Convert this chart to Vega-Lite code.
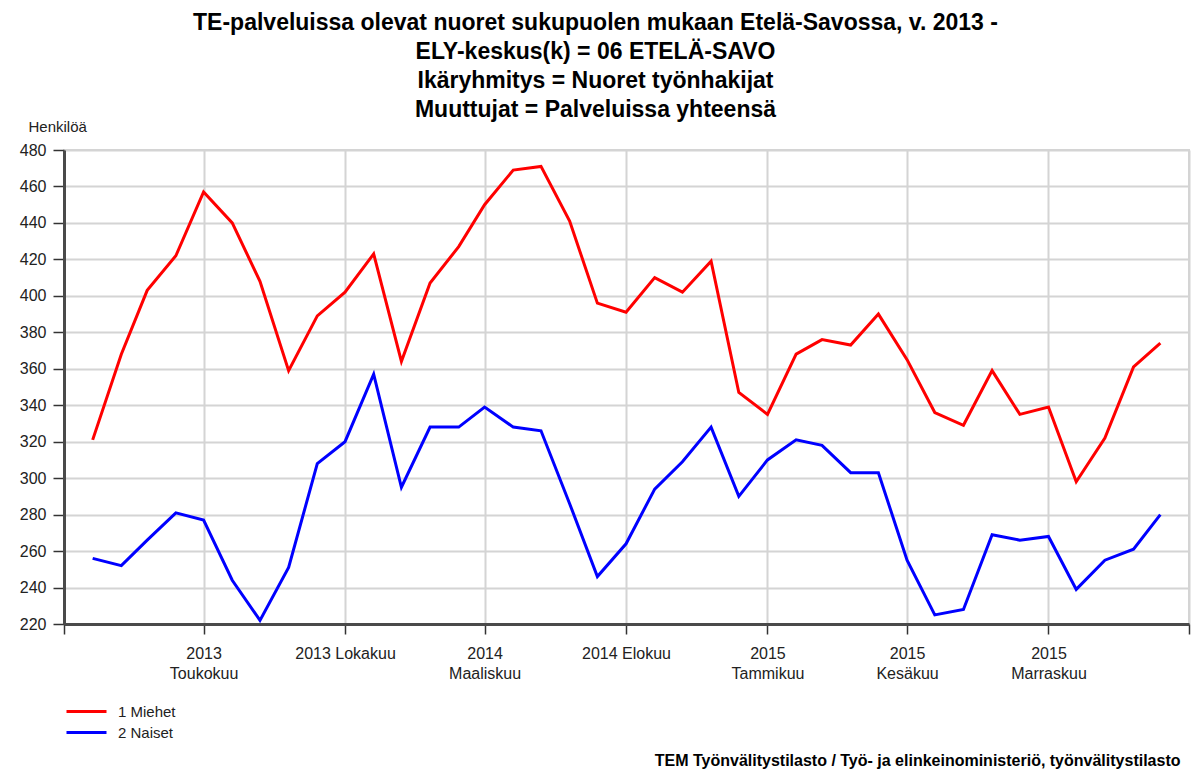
{
  "$schema": "https://vega.github.io/schema/vega-lite/v6.json",
  "autosize": "none",
  "width": 1125,
  "height": 474,
  "padding": {"left": 64, "top": 150, "right": 2, "bottom": 145},
  "background": "white",
  "config": {
    "font": "Liberation Sans",
    "view": {"stroke": "#d4d4d4", "strokeWidth": 2}
  },
  "title": {
    "text": "TE-palveluissa olevat nuoret sukupuolen mukaan Etelä-Savossa, v. 2013 -",
    "subtitle": [
      "ELY-keskus(k) = 06 ETELÄ-SAVO",
      "Ikäryhmitys = Nuoret työnhakijat",
      "Muuttujat = Palveluissa yhteensä"
    ],
    "anchor": "middle",
    "frame": "group",
    "dx": -31,
    "offset": -3,
    "font": "Liberation Sans",
    "fontSize": 23,
    "fontWeight": "bold",
    "color": "#000000",
    "subtitleFont": "Liberation Sans",
    "subtitleFontSize": 23,
    "subtitleFontWeight": "bold",
    "subtitleColor": "#000000",
    "subtitleLineHeight": 29,
    "subtitlePadding": 6
  },
  "data": {
    "values": [
      {"kk": "2013-01", "sp": "1 Miehet", "v": 321}, {"kk": "2013-02", "sp": "1 Miehet", "v": 368},
      {"kk": "2013-03", "sp": "1 Miehet", "v": 403}, {"kk": "2013-04", "sp": "1 Miehet", "v": 422},
      {"kk": "2013-05", "sp": "1 Miehet", "v": 457}, {"kk": "2013-06", "sp": "1 Miehet", "v": 440},
      {"kk": "2013-07", "sp": "1 Miehet", "v": 408}, {"kk": "2013-08", "sp": "1 Miehet", "v": 359},
      {"kk": "2013-09", "sp": "1 Miehet", "v": 389}, {"kk": "2013-10", "sp": "1 Miehet", "v": 402},
      {"kk": "2013-11", "sp": "1 Miehet", "v": 423}, {"kk": "2013-12", "sp": "1 Miehet", "v": 364},
      {"kk": "2014-01", "sp": "1 Miehet", "v": 407}, {"kk": "2014-02", "sp": "1 Miehet", "v": 427},
      {"kk": "2014-03", "sp": "1 Miehet", "v": 450}, {"kk": "2014-04", "sp": "1 Miehet", "v": 469},
      {"kk": "2014-05", "sp": "1 Miehet", "v": 471}, {"kk": "2014-06", "sp": "1 Miehet", "v": 441},
      {"kk": "2014-07", "sp": "1 Miehet", "v": 396}, {"kk": "2014-08", "sp": "1 Miehet", "v": 391},
      {"kk": "2014-09", "sp": "1 Miehet", "v": 410}, {"kk": "2014-10", "sp": "1 Miehet", "v": 402},
      {"kk": "2014-11", "sp": "1 Miehet", "v": 419}, {"kk": "2014-12", "sp": "1 Miehet", "v": 347},
      {"kk": "2015-01", "sp": "1 Miehet", "v": 335}, {"kk": "2015-02", "sp": "1 Miehet", "v": 368},
      {"kk": "2015-03", "sp": "1 Miehet", "v": 376}, {"kk": "2015-04", "sp": "1 Miehet", "v": 373},
      {"kk": "2015-05", "sp": "1 Miehet", "v": 390}, {"kk": "2015-06", "sp": "1 Miehet", "v": 365},
      {"kk": "2015-07", "sp": "1 Miehet", "v": 336}, {"kk": "2015-08", "sp": "1 Miehet", "v": 329},
      {"kk": "2015-09", "sp": "1 Miehet", "v": 359}, {"kk": "2015-10", "sp": "1 Miehet", "v": 335},
      {"kk": "2015-11", "sp": "1 Miehet", "v": 339}, {"kk": "2015-12", "sp": "1 Miehet", "v": 298},
      {"kk": "2016-01", "sp": "1 Miehet", "v": 322}, {"kk": "2016-02", "sp": "1 Miehet", "v": 361},
      {"kk": "2016-03", "sp": "1 Miehet", "v": 374},
      {"kk": "2013-01", "sp": "2 Naiset", "v": 256}, {"kk": "2013-02", "sp": "2 Naiset", "v": 252},
      {"kk": "2013-03", "sp": "2 Naiset", "v": 266}, {"kk": "2013-04", "sp": "2 Naiset", "v": 281},
      {"kk": "2013-05", "sp": "2 Naiset", "v": 277}, {"kk": "2013-06", "sp": "2 Naiset", "v": 244},
      {"kk": "2013-07", "sp": "2 Naiset", "v": 222}, {"kk": "2013-08", "sp": "2 Naiset", "v": 251},
      {"kk": "2013-09", "sp": "2 Naiset", "v": 308}, {"kk": "2013-10", "sp": "2 Naiset", "v": 320},
      {"kk": "2013-11", "sp": "2 Naiset", "v": 357}, {"kk": "2013-12", "sp": "2 Naiset", "v": 295},
      {"kk": "2014-01", "sp": "2 Naiset", "v": 328}, {"kk": "2014-02", "sp": "2 Naiset", "v": 328},
      {"kk": "2014-03", "sp": "2 Naiset", "v": 339}, {"kk": "2014-04", "sp": "2 Naiset", "v": 328},
      {"kk": "2014-05", "sp": "2 Naiset", "v": 326}, {"kk": "2014-06", "sp": "2 Naiset", "v": 286},
      {"kk": "2014-07", "sp": "2 Naiset", "v": 246}, {"kk": "2014-08", "sp": "2 Naiset", "v": 264},
      {"kk": "2014-09", "sp": "2 Naiset", "v": 294}, {"kk": "2014-10", "sp": "2 Naiset", "v": 309},
      {"kk": "2014-11", "sp": "2 Naiset", "v": 328}, {"kk": "2014-12", "sp": "2 Naiset", "v": 290},
      {"kk": "2015-01", "sp": "2 Naiset", "v": 310}, {"kk": "2015-02", "sp": "2 Naiset", "v": 321},
      {"kk": "2015-03", "sp": "2 Naiset", "v": 318}, {"kk": "2015-04", "sp": "2 Naiset", "v": 303},
      {"kk": "2015-05", "sp": "2 Naiset", "v": 303}, {"kk": "2015-06", "sp": "2 Naiset", "v": 255},
      {"kk": "2015-07", "sp": "2 Naiset", "v": 225}, {"kk": "2015-08", "sp": "2 Naiset", "v": 228},
      {"kk": "2015-09", "sp": "2 Naiset", "v": 269}, {"kk": "2015-10", "sp": "2 Naiset", "v": 266},
      {"kk": "2015-11", "sp": "2 Naiset", "v": 268}, {"kk": "2015-12", "sp": "2 Naiset", "v": 239},
      {"kk": "2016-01", "sp": "2 Naiset", "v": 255}, {"kk": "2016-02", "sp": "2 Naiset", "v": 261},
      {"kk": "2016-03", "sp": "2 Naiset", "v": 280}
    ],
    "format": {"parse": {"kk": "utc:'%Y-%m'"}}
  },
  "mark": {"type": "line", "strokeWidth": 3, "clip": true},
  "encoding": {
    "x": {
      "field": "kk",
      "type": "temporal",
      "scale": {
        "type": "utc",
        "domain": [
          {"year": 2012, "month": 12, "date": 1, "utc": true},
          {"year": 2016, "month": 4, "date": 1, "utc": true}
        ],
        "nice": false
      },
      "axis": {
        "values": [
          {"year": 2012, "month": 12, "date": 1, "utc": true},
          {"year": 2013, "month": 5, "date": 1, "utc": true},
          {"year": 2013, "month": 10, "date": 1, "utc": true},
          {"year": 2014, "month": 3, "date": 1, "utc": true},
          {"year": 2014, "month": 8, "date": 1, "utc": true},
          {"year": 2015, "month": 1, "date": 1, "utc": true},
          {"year": 2015, "month": 6, "date": 1, "utc": true},
          {"year": 2015, "month": 11, "date": 1, "utc": true},
          {"year": 2016, "month": 4, "date": 1, "utc": true}
        ],
        "labelExpr": "(utcmonth(datum.value) == 11 || utcmonth(datum.value) == 3) ? '' : ((utcmonth(datum.value) == 9 || utcmonth(datum.value) == 7) ? (utcyear(datum.value) + ' ' + ['Tammikuu','Helmikuu','Maaliskuu','Huhtikuu','Toukokuu','Kesäkuu','Heinäkuu','Elokuu','Syyskuu','Lokakuu','Marraskuu','Joulukuu'][utcmonth(datum.value)]) : ['' + utcyear(datum.value), ['Tammikuu','Helmikuu','Maaliskuu','Huhtikuu','Toukokuu','Kesäkuu','Heinäkuu','Elokuu','Syyskuu','Lokakuu','Marraskuu','Joulukuu'][utcmonth(datum.value)]])",
        "labelFont": "Liberation Sans",
        "labelFontSize": 16,
        "labelColor": "#222222",
        "labelPadding": 11,
        "labelLineHeight": 20,
        "labelBaseline": "top",
        "labelOverlap": false,
        "labelFlush": false,
        "labelBound": false,
        "tickSize": 10,
        "tickColor": "#333333",
        "tickWidth": 1.5,
        "domainColor": "#4a4a4a",
        "domainWidth": 3,
        "grid": true,
        "gridColor": "#d4d4d4",
        "gridWidth": 2,
        "title": "TEM Työnvälitystilasto / Työ- ja elinkeinoministeriö, työnvälitystilasto",
        "titleFont": "Liberation Sans",
        "titleFontSize": 16,
        "titleFontWeight": "bold",
        "titleColor": "#000000",
        "titleAlign": "right",
        "titleAnchor": "end",
        "titleBaseline": "middle",
        "titleX": 1116,
        "titleY": 136
      }
    },
    "y": {
      "field": "v",
      "type": "quantitative",
      "scale": {"domain": [220, 480], "nice": false, "zero": false},
      "axis": {
        "values": [220, 240, 260, 280, 300, 320, 340, 360, 380, 400, 420, 440, 460, 480],
        "labelFont": "Liberation Sans",
        "labelFontSize": 16,
        "labelColor": "#222222",
        "labelPadding": 7,
        "tickSize": 11,
        "tickColor": "#333333",
        "tickWidth": 1.5,
        "domainColor": "#4a4a4a",
        "domainWidth": 3,
        "gridColor": "#d4d4d4",
        "gridWidth": 2,
        "title": "Henkilöä",
        "titleFont": "Liberation Sans",
        "titleFontSize": 15,
        "titleFontWeight": "normal",
        "titleColor": "#222222",
        "titleAngle": 0,
        "titleAlign": "left",
        "titleBaseline": "alphabetic",
        "titleX": -36,
        "titleY": -19
      }
    },
    "color": {
      "field": "sp",
      "type": "nominal",
      "scale": {"domain": ["1 Miehet", "2 Naiset"], "range": ["#ff0000", "#0000ff"]},
      "legend": {
        "orient": "none",
        "legendX": 11,
        "legendY": 550,
        "title": null,
        "symbolType": "M-2,0H2",
        "symbolSize": 400,
        "symbolStrokeWidth": 3,
        "labelFont": "Liberation Sans",
        "labelFontSize": 15,
        "labelColor": "#222222",
        "labelOffset": 20,
        "rowPadding": 1
      }
    }
  }
}
